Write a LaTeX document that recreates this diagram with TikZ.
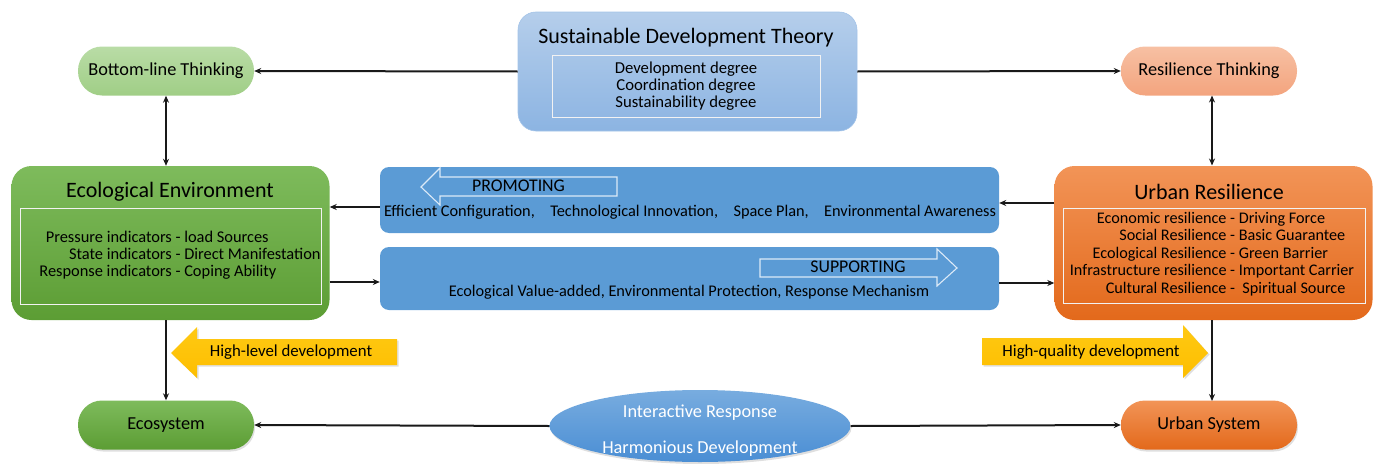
\documentclass[tikz,border=0pt]{standalone}
\usepackage{fontspec}
\setmainfont{Carlito}
\usetikzlibrary{arrows.meta,shapes.geometric,shadows}
\definecolor{lgA}{HTML}{B9DCA6}\definecolor{lgB}{HTML}{A0CE86}
\definecolor{saA}{HTML}{F7C0A3}\definecolor{saB}{HTML}{F3A47E}
\definecolor{sbA}{HTML}{B5CEEB}\definecolor{sbB}{HTML}{8CB4E2}
\definecolor{gA}{HTML}{7EBB5C}\definecolor{gB}{HTML}{5C9D34}
\definecolor{oA}{HTML}{F29457}\definecolor{oB}{HTML}{E3691B}
\definecolor{barblue}{HTML}{5B9BD5}
\definecolor{elA}{HTML}{78ACDF}\definecolor{elB}{HTML}{4A8ED4}
\definecolor{yelA}{HTML}{FFC913}\definecolor{yelB}{HTML}{FDBE00}
\definecolor{hollow}{HTML}{DCEAF8}
\begin{document}
\begin{tikzpicture}[x=1pt,y=-1pt,
  arr/.style={draw=black!90,line width=2pt,-{Stealth[length=7pt,width=6pt]}},
  darr/.style={draw=black!90,line width=2pt,{Stealth[length=7pt,width=6pt]}-{Stealth[length=7pt,width=6pt]}},
  pill/.style={rectangle,rounded corners=24pt,minimum width=176pt,minimum height=49pt,inner sep=0pt,font=\fontsize{18.3}{20}\selectfont},
  bigbox/.style={rectangle,rounded corners=20pt,minimum width=318pt,minimum height=154pt,inner sep=0pt},
  innerbox/.style={rectangle,draw=white!90!gray,line width=0.8pt,inner sep=0pt},
  titletext/.style={font=\fontsize{22}{24}\selectfont,inner sep=0pt},
  bar/.style={rectangle,rounded corners=9pt,fill=barblue,minimum width=619pt,inner sep=0pt},
  bartext/.style={font=\fontsize{16.3}{17}\selectfont,inner sep=0pt},
  captext/.style={font=\fontsize{17.8}{19}\selectfont,inner sep=0pt},
  hollowarrow/.style={draw=hollow,line width=1.1pt},
  yarrow/.style={top color=yelA,bottom color=yelB,drop shadow={opacity=0.25,shadow xshift=1.5pt,shadow yshift=-1.5pt}},
  yartext/.style={font=\fontsize{16.8}{18}\selectfont,inner sep=0pt},
  shad/.style={drop shadow={opacity=0.25,shadow xshift=1pt,shadow yshift=-2pt}}
]
\useasboundingbox (0,0) rectangle (1378,463);

% top row
\node[pill,top color=lgA,bottom color=lgB] (blt) at (166,71) {Bottom-line Thinking};
\node[pill,top color=saA,bottom color=saB] (rt) at (1209,71) {Resilience Thinking};
\node[rectangle,rounded corners=18pt,minimum width=339pt,minimum height=119pt,inner sep=0pt,
      top color=sbA,bottom color=sbB,draw=sbB!80!white,line width=0.6pt] (sdt) at (687.5,71.5) {};
\node[titletext] (sdtt) at (686,38) {Sustainable Development Theory};
\node[innerbox,minimum width=268pt,minimum height=62pt,font=\fontsize{16.7}{17}\selectfont,align=center] (sdti) at (686,86)
  {Development degree\\Coordination degree\\Sustainability degree};

% middle row
\node[bigbox,top color=gA,bottom color=gB] (eco) at (170.5,243) {};
\node[titletext] (ecot) at (170,192) {Ecological Environment};
\node[innerbox,minimum width=301pt,minimum height=96pt] (ecoi) at (170.5,256) {};
\node[inner sep=0pt,font=\fontsize{16.4}{17}\selectfont] (ecol) at (180,256)
  {\begin{tabular}{@{}r@{\ -\ }l@{}}
   Pressure indicators & load Sources\\
   State indicators & Direct Manifestation\\
   Response indicators & Coping Ability
   \end{tabular}};

\node[bigbox,top color=oA,bottom color=oB] (ur) at (1213.5,243) {};
\node[titletext] (urt) at (1209,192) {Urban Resilience};
\node[innerbox,minimum width=302pt,minimum height=95pt] (uri) at (1214,255.5) {};
\node[inner sep=0pt,font=\fontsize{16.2}{17.5}\selectfont] (url) at (1212,254.5)
  {\begin{tabular}{@{}r@{\ -\ }l@{}}
   Economic resilience & Driving Force\\
   Social Resilience & Basic Guarantee\\
   Ecological Resilience & Green Barrier\\
   Infrastructure resilience & Important Carrier\\
   Cultural Resilience & \ Spiritual Source
   \end{tabular}};

\node[bar,minimum height=66pt] (bar1) at (689.5,200) {};
\draw[hollowarrow] (421,187) -- (440,168) -- (440,177) -- (617,177) -- (617,196) -- (440,196) -- (440,205) -- cycle;
\node[captext] (promo) at (518.5,186) {PROMOTING};
\node[bartext] (promol) at (690,212) {Efficient Configuration,\hspace{0.95em}Technological Innovation,\hspace{0.95em}Space Plan,\hspace{0.95em}Environmental Awareness};

\node[bar,minimum height=63pt] (bar2) at (689.5,278.5) {};
\draw[hollowarrow] (957,268) -- (937,249) -- (937,259) -- (760,259) -- (760,277) -- (937,277) -- (937,286) -- cycle;
\node[captext] (supp) at (858,267) {SUPPORTING};
\node[bartext] (suppl) at (689,292) {Ecological Value-added, Environmental Protection, Response Mechanism};

% bottom row
\node[pill,top color=gA,bottom color=gB,shad] (ecs) at (166,425) {Ecosystem};
\node[pill,top color=oA,bottom color=oB,shad] (us) at (1209,425) {Urban System};
\node[ellipse,minimum width=301pt,minimum height=72pt,inner sep=0pt,top color=elA,bottom color=elB,shad] (ell) at (700,426) {};
\node[text=white,font=\fontsize{18.3}{19}\selectfont,inner sep=0pt] (ell1) at (700,413) {Interactive Response};
\node[text=white,font=\fontsize{18.3}{19}\selectfont,inner sep=0pt] (ell2) at (700,449) {Harmonious Development};

% yellow arrows
\path[yarrow] (171,353) -- (197,327) -- (197,339) -- (397,339) -- (397,365) -- (197,365) -- (197,378) -- cycle;
\node[yartext] (hl) at (291,352) {High-level development};
\path[yarrow] (1208,353) -- (1183,325) -- (1183,338) -- (982,338) -- (982,365) -- (1183,365) -- (1183,378) -- cycle;
\node[yartext] (hq) at (1091,352) {High-quality development};

% connectors
\draw[arr] (sdt.west) -- (blt.east);
\draw[arr] (sdt.east) -- (rt.west);
\draw[darr] (blt.south) -- (blt.south |- eco.north);
\draw[darr] (1212,95.5) -- (1212,165.5);
\draw[arr] (bar1.west |- 0,207) -- (eco.east |- 0,207);
\draw[arr] (eco.east |- 0,282) -- (bar2.west |- 0,282);
\draw[arr] (ur.west |- 0,203) -- (bar1.east |- 0,203);
\draw[arr] (bar2.east |- 0,283) -- (ur.west |- 0,283);
\draw[arr] (ecs.north |- eco.south) -- (ecs.north);
\draw[arr] (1212,320) -- (1212,401);
\draw[arr] (ell.west) -- (ecs.east);
\draw[arr] (ell.east) -- (us.west);
\end{tikzpicture}
\end{document}
